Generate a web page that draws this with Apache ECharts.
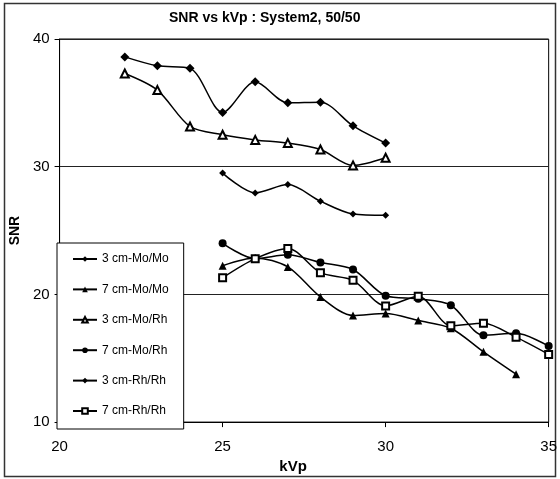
<!DOCTYPE html>
<html>
<head>
<meta charset="utf-8">
<style>
  html, body { margin: 0; padding: 0; background: #fff; }
  #chart { width: 560px; height: 479px; }
</style>
<script src="https://cdn.jsdelivr.net/npm/echarts@6/dist/echarts.min.js"></script>
</head>
<body>
<div id="chart"></div>
<script>
var FONT = '"Liberation Sans", Arial, sans-serif'

// x values (kVp) for each group of series
var kvp3MoMo = [22, 23, 24, 25, 26, 27, 28, 29, 30]
var kvp3RhRh = [25, 26, 27, 28, 29, 30]
var kvp7MoMo = [25, 26, 27, 28, 29, 30, 31, 32, 33, 34]
var kvp7 = [25, 26, 27, 28, 29, 30, 31, 32, 33, 34, 35]

// SNR values
var snr3MoMo = [38.6, 37.9, 37.7, 34.25, 36.65, 35.0, 35.05, 33.2, 31.85]
var snr3MoRh = [37.3, 36.0, 33.15, 32.5, 32.1, 31.85, 31.35, 30.1, 30.7]
var snr3RhRh = [29.5, 27.95, 28.6, 27.3, 26.3, 26.2]
var snr7MoMo = [22.25, 22.85, 22.15, 19.8, 18.35, 18.5, 17.95, 17.35, 15.5, 13.75]
var snr7MoRh = [24.0, 22.8, 23.1, 22.5, 21.95, 19.9, 19.65, 19.15, 16.8, 16.95, 15.95]
var snr7RhRh = [21.3, 22.8, 23.6, 21.7, 21.1, 19.1, 19.85, 17.55, 17.75, 16.65, 15.3]

var seriesNames = ['3 cm-Mo/Mo', '7 cm-Mo/Mo', '3 cm-Mo/Rh', '7 cm-Mo/Rh', '3 cm-Rh/Rh', '7 cm-Rh/Rh']
var xTicks = [20, 25, 30, 35]
var yTicks = [10, 20, 30, 40]

function pairs(xs, ys) {
  return xs.map(function (x, i) { return [x, ys[i]] })
}

function line(name, xs, ys, symbol, size) {
  return {
    name: name,
    type: 'line',
    smooth: 0.3,
    data: pairs(xs, ys),
    symbol: symbol,
    symbolSize: size,
    showAllSymbol: true,
    itemStyle: { color: '#000', borderWidth: 1.2 },
    lineStyle: { color: '#000', width: 1.5 },
    emphasis: { disabled: true },
    z: 3,
  }
}

var myChart = echarts.init(document.getElementById('chart'))
var option = {
  backgroundColor: '#fff',
  animation: false,
  textStyle: { fontFamily: FONT, color: '#000' },
  title: {
    text: 'SNR vs kVp : System2, 50/50',
    left: 164,
    top: 6,
    textStyle: { fontFamily: FONT, fontSize: 14, fontWeight: 'bold', color: '#000' },
  },
  graphic: [
    {
      type: 'rect',
      shape: { x: 4.5, y: 3.5, width: 551, height: 473 },
      style: { fill: 'none', stroke: '#333', lineWidth: 1.5 },
      silent: true,
      z: 0,
    },
  ],
  legend: {
    orient: 'vertical',
    left: 57,
    top: 243,
    padding: [10, 15, 12, 15],
    itemGap: 18.4,
    itemWidth: 24,
    itemHeight: 7,
    backgroundColor: '#fff',
    borderColor: '#000',
    borderWidth: 1,
    textStyle: { fontFamily: FONT, fontSize: 12, color: '#000' },
    data: seriesNames,
    z: 10,
  },
  grid: {
    left: 54,
    right: 9,
    top: 39,
    bottom: 49,
    show: true,
    borderColor: '#000',
    borderWidth: 1,
    backgroundColor: '#fff',
  },
  xAxis: {
    type: 'value',
    min: xTicks[0],
    max: xTicks[xTicks.length - 1],
    interval: 5,
    name: 'kVp',
    nameLocation: 'middle',
    nameGap: 25,
    nameTextStyle: { fontFamily: FONT, fontSize: 15, fontWeight: 'bold', color: '#000', padding: [0, 22, 0, 0] },
    axisLine: { lineStyle: { color: '#000', width: 1 } },
    axisTick: { show: true, inside: false, length: 5, lineStyle: { color: '#000' } },
    axisLabel: { fontFamily: FONT, fontSize: 15, color: '#000', margin: 17 },
    splitLine: { show: false },
  },
  yAxis: {
    type: 'value',
    min: yTicks[0],
    max: yTicks[yTicks.length - 1],
    interval: 10,
    name: 'SNR',
    nameLocation: 'middle',
    nameGap: 36,
    nameTextStyle: { fontFamily: FONT, fontSize: 14, fontWeight: 'bold', color: '#000' },
    axisLine: { show: true, lineStyle: { color: '#000', width: 1 } },
    axisTick: { show: true, inside: false, length: 5, lineStyle: { color: '#000' } },
    axisLabel: { fontFamily: FONT, fontSize: 15, color: '#000', margin: 10 },
    splitLine: { show: true, lineStyle: { color: '#222', width: 1 } },
  },
  series: [
    line(seriesNames[0], kvp3MoMo, snr3MoMo, 'diamond', 9),
    line(seriesNames[1], kvp7MoMo, snr7MoMo, 'triangle', 8),
    line(seriesNames[2], kvp3MoMo, snr3MoRh, 'emptyTriangle', 8),
    line(seriesNames[3], kvp7, snr7MoRh, 'circle', 8),
    line(seriesNames[4], kvp3RhRh, snr3RhRh, 'diamond', 7),
    line(seriesNames[5], kvp7, snr7RhRh, 'emptyRect', 7),
  ],
}
option && myChart.setOption(option)
</script>
</body>
</html>
